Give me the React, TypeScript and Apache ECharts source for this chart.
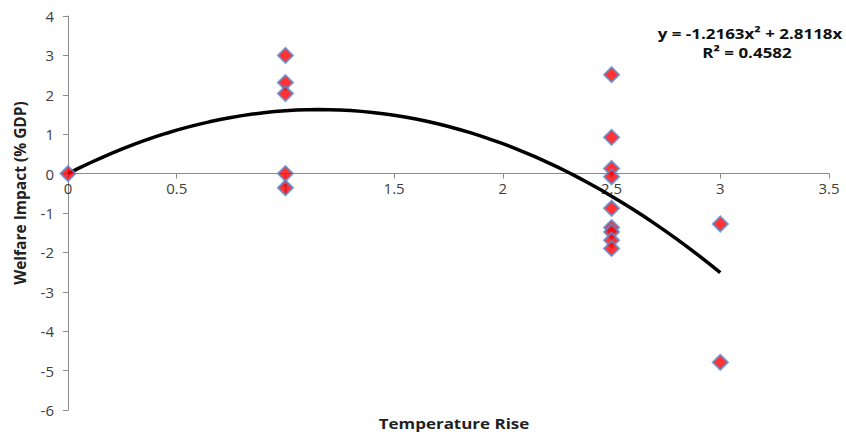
import React, { useEffect, useRef } from "react";
import * as echarts from "echarts";

const temperature = [0, 1, 1, 1, 1, 1, 2.5, 2.5, 2.5, 2.5, 2.5, 2.5, 2.5, 2.5, 2.5, 3, 3];
const welfare = [0, 3.0, 2.31, 2.03, 0, -0.36, 2.51, 0.92, 0.13, -0.08, -0.88, -1.37, -1.48, -1.69, -1.9, -1.28, -4.79];
const trendA = -1.2163;
const trendB = 2.8118;
const trendR2 = 0.4582;
const xTicks = [0, 0.5, 1, 1.5, 2, 2.5, 3, 3.5];
const yTicks = [-6, -5, -4, -3, -2, -1, 0, 1, 2, 3, 4];

export default function App() {
  const ref = useRef<HTMLDivElement>(null);
  useEffect(() => {
    if (!ref.current) return;
    const chart = echarts.init(ref.current, null, { renderer: "svg" });
    const scatter = temperature.map((t, i) => [t, welfare[i]]);
    const xMax = Math.max(...temperature);
    const trend: number[][] = [];
    for (let i = 0; i <= 60; i++) {
      const x = (xMax * i) / 60;
      trend.push([x, trendA * x * x + trendB * x]);
    }
    const font = "'Open Sans', 'Noto Sans', sans-serif";
    const top = 16;
    const bottom = 24;
    const plotH = 434 - top - bottom;
    const yMin = yTicks[0];
    const yMax = yTicks[yTicks.length - 1];
    const zeroFromBottom = (plotH * (0 - yMin)) / (yMax - yMin);
    chart.setOption({
      animation: false,
      textStyle: { fontFamily: font },
      grid: { left: 68, right: 17, top, bottom, containLabel: false },
      xAxis: {
        type: "value",
        min: xTicks[0],
        max: xTicks[xTicks.length - 1],
        interval: 0.5,
        offset: -zeroFromBottom,
        axisLine: { onZero: false, lineStyle: { color: "#8c8c8c", width: 1 } },
        axisTick: { show: true, inside: false, length: 5, lineStyle: { color: "#8c8c8c" } },
        axisLabel: { color: "#404040", fontSize: 15, margin: 7, fontFamily: font },
        splitLine: { show: false },
      },
      yAxis: {
        type: "value",
        min: yMin,
        max: yMax,
        interval: 1,
        axisLine: { show: true, lineStyle: { color: "#8c8c8c", width: 1 } },
        axisTick: { show: true, length: 5, lineStyle: { color: "#8c8c8c" } },
        axisLabel: { color: "#404040", fontSize: 15, margin: 14, fontFamily: font },
        splitLine: { show: false },
      },
      graphic: [
        {
          type: "text",
          x: 20,
          y: 193,
          rotation: Math.PI / 2,
          style: {
            text: "Welfare Impact (% GDP)",
            font: `bold 15.5px ${font}`,
            fill: "#222",
            align: "center",
            verticalAlign: "middle",
          },
        },
        {
          type: "text",
          x: 454,
          y: 423,
          scaleX: 1.13,
          style: {
            text: "Temperature Rise",
            font: `bold 15px ${font}`,
            fill: "#222",
            align: "center",
            verticalAlign: "middle",
          },
        },
        {
          type: "text",
          x: 750,
          y: 33,
          scaleX: 1.13,
          style: {
            text: `y = ${trendA}x² + ${trendB}x`,
            font: `bold 15px ${font}`,
            fill: "#111",
            align: "center",
            verticalAlign: "middle",
          },
        },
        {
          type: "text",
          x: 747,
          y: 52,
          scaleX: 1.13,
          style: {
            text: `R² = ${trendR2}`,
            font: `bold 15px ${font}`,
            fill: "#111",
            align: "center",
            verticalAlign: "middle",
          },
        },
      ],
      series: [
        {
          type: "line",
          data: trend,
          showSymbol: false,
          smooth: false,
          lineStyle: { color: "#000", width: 3.5 },
          z: 2,
        },
        {
          type: "scatter",
          data: scatter,
          symbol: "diamond",
          symbolSize: 15,
          itemStyle: { color: "#ff0000", borderColor: "#5b8bd0", borderWidth: 2 },
          z: 3,
        },
      ],
    });
    return () => chart.dispose();
  }, []);
  return (
    <div
      ref={ref}
      style={{ position: "absolute", left: 0, top: 0, width: 846, height: 434, background: "#fff" }}
    />
  );
}
